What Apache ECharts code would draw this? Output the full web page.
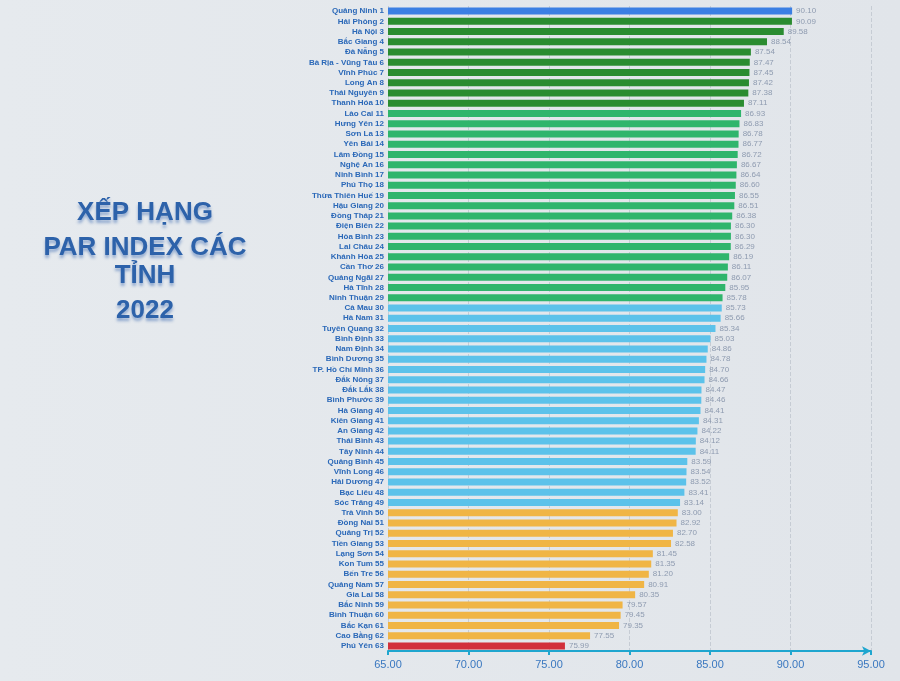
<!DOCTYPE html>
<html><head><meta charset="utf-8">
<script src="https://cdn.jsdelivr.net/npm/echarts@6/dist/echarts.min.js"></script>
<style>html,body{margin:0;padding:0;background:#e5e9ed;}#c{width:900px;height:681px;}</style>
</head><body><div id="c"></div>
<script>
const provinces = ["Quảng Ninh","Hải Phòng","Hà Nội","Bắc Giang","Đà Nẵng","Bà Rịa - Vũng Tàu","Vĩnh Phúc","Long An","Thái Nguyên","Thanh Hóa",
"Lào Cai","Hưng Yên","Sơn La","Yên Bái","Lâm Đồng","Nghệ An","Ninh Bình","Phú Thọ","Thừa Thiên Huế","Hậu Giang",
"Đồng Tháp","Điện Biên","Hòa Bình","Lai Châu","Khánh Hòa","Cần Thơ","Quảng Ngãi","Hà Tĩnh","Ninh Thuận","Cà Mau",
"Hà Nam","Tuyên Quang","Bình Định","Nam Định","Bình Dương","TP. Hồ Chí Minh","Đắk Nông","Đắk Lắk","Bình Phước","Hà Giang",
"Kiên Giang","An Giang","Thái Bình","Tây Ninh","Quảng Bình","Vĩnh Long","Hải Dương","Bạc Liêu","Sóc Trăng","Trà Vinh",
"Đồng Nai","Quảng Trị","Tiền Giang","Lạng Sơn","Kon Tum","Bến Tre","Quảng Nam","Gia Lai","Bắc Ninh","Bình Thuận",
"Bắc Kạn","Cao Bằng","Phú Yên"];
const scores = [90.10,90.09,89.58,88.54,87.54,87.47,87.45,87.42,87.38,87.11,
86.93,86.83,86.78,86.77,86.72,86.67,86.64,86.60,86.55,86.51,
86.38,86.30,86.30,86.29,86.19,86.11,86.07,85.95,85.78,85.73,
85.66,85.34,85.03,84.86,84.78,84.70,84.66,84.47,84.46,84.41,
84.31,84.22,84.12,84.11,83.59,83.54,83.52,83.41,83.14,83.00,
82.92,82.70,82.58,81.45,81.35,81.20,80.91,80.35,79.57,79.45,
79.35,77.55,75.99];
// group upper-rank limits (inclusive) and colours
const groupLastRank = [1, 10, 29, 49, 62, 63];
const groupColors = ["#3b7fe3", "#2a8c30", "#2fb56c", "#5cc2ea", "#f0b545", "#d2303b"];
const xTicks = [65, 70, 75, 80, 85, 90, 95];

function colorFor(rank){
  for (let g=0; g<groupLastRank.length; g++) if (rank <= groupLastRank[g]) return groupColors[g];
  return groupColors[groupColors.length-1];
}
const cats = provinces.map((p,i)=>p+' '+(i+1));
const data = scores.map((v,i)=>({value:v, itemStyle:{color:colorFor(i+1)}}));

const chart = echarts.init(document.getElementById('c'));
const titleLines = ["XẾP HẠNG","PAR INDEX CÁC","TỈNH","2022"];
const titleTops = [195, 230, 258, 293];
chart.setOption({
  backgroundColor: {type:'linear',x:0,y:0,x2:1,y2:0,colorStops:[{offset:0,color:'#e6eaee'},{offset:1,color:'#e1e5ea'}]},
  title: titleLines.map((t,i)=>({
    text:t, left:140, top:titleTops[i], textAlign:'center',
    textStyle:{fontFamily:'Liberation Sans, Arial, sans-serif', fontWeight:'bold', fontSize:26, color:'#2d62aa',
      textShadowColor:'rgba(40,90,170,0.45)', textShadowBlur:3, textShadowOffsetY:3}
  })),
  grid:{left:388, right:29, top:6, bottom:30, containLabel:false},
  xAxis:{type:'value', min:xTicks[0], max:xTicks[xTicks.length-1], interval:5,
    axisLine:{show:true, lineStyle:{color:'#1fa6cf', width:2}, symbol:['none','arrow'], symbolSize:[7,9]},
    axisTick:{show:true, length:4, lineStyle:{color:'#1fa6cf', width:2}},
    axisLabel:{color:'#3a78c0', fontSize:11, fontFamily:'Liberation Sans Narrow, Liberation Sans, sans-serif', margin:8,
      formatter:v=>v.toFixed(2)},
    splitLine:{show:true, lineStyle:{type:'dashed', color:'#c6ccd4', width:1}}
  },
  yAxis:{type:'category', data:cats, inverse:true,
    axisLine:{show:false}, axisTick:{show:false},
    axisLabel:{color:'#2a68b8', fontSize:8, fontWeight:'bold', margin:4, interval:0,
      fontFamily:'Liberation Sans Narrow, Liberation Sans, sans-serif'}
  },
  series:[{type:'bar', data:data, barWidth:7,
    label:{show:true, position:'right', distance:4, color:'#8e9bb0', fontSize:8,
      fontFamily:'Liberation Sans, sans-serif', formatter:p=>p.value.toFixed(2)}
  }]
});
</script></body></html>
